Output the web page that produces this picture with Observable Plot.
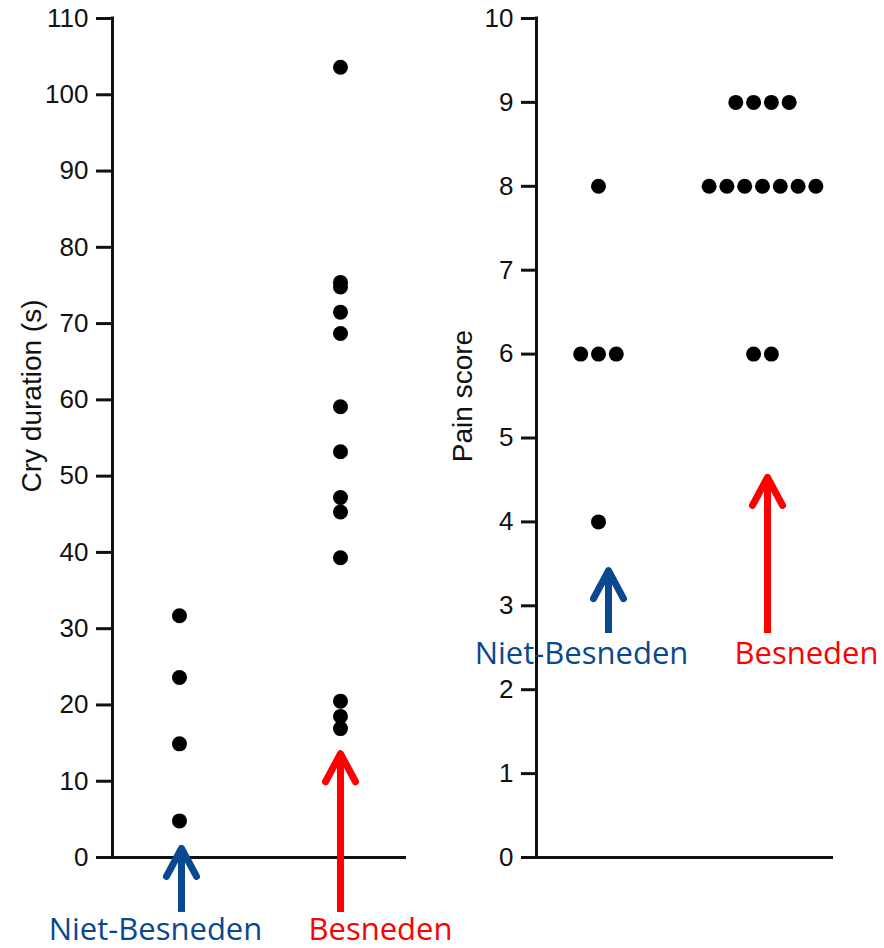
<!DOCTYPE html>
<html><head><meta charset="utf-8">
<script src="https://cdn.jsdelivr.net/npm/d3@7"></script>
<script src="https://cdn.jsdelivr.net/npm/@observablehq/plot@0.6"></script>
<style>
html,body{margin:0;padding:0;background:#fff;}
#wrap{position:relative;width:884px;height:948px;overflow:hidden;background:#fff;}
#left{position:absolute;left:0;top:0;z-index:2;}
#right{position:absolute;left:440px;top:0;z-index:1;}
#wrap svg{overflow:visible;}
</style></head><body>
<div id="wrap"><div id="left"></div><div id="right"></div></div>
<script>
// ---- data ----
const groups = ["Niet-Besneden", "Besneden"];
const groupColors = ["#0a488f", "#ff0000"];
const yLabels = ["Cry duration (s)", "Pain score"];

const cryNiet = [31.7, 23.6, 14.9, 4.8];
const cryBesn = [103.6, 75.4, 74.8, 71.5, 68.7, 59.1, 53.2, 47.2, 45.3, 39.3, 20.5, 18.5, 16.9];
const cryTicks = [0, 10, 20, 30, 40, 50, 60, 70, 80, 90, 100, 110];

const painNiet = [8, 6, 6, 6, 4];
const painBesn = [9, 9, 9, 9, 8, 8, 8, 8, 8, 8, 8, 6, 6];
const painTicks = [0, 1, 2, 3, 4, 5, 6, 7, 8, 9, 10];

// annotation arrows (in data units of each panel)
const cryArrowTip = [1.2, 13.6];
const cryArrowTail = [-7.2, -7.2];
const cryLabelY = -10.8;
const painArrowTip = [3.42, 4.53];
const painArrowTail = [2.67, 2.67];
const painLabelY = 2.31;

// ---- tables ----
const cryData = [
  ...cryNiet.map(v => ({g: 0, v})),
  ...cryBesn.map(v => ({g: 1, v}))
];
function stackDots(values, g, step) {
  const counts = d3.rollup(values, a => a.length, d => d);
  const seen = new Map();
  return values.map(v => {
    const n = counts.get(v), k = seen.get(v) || 0;
    seen.set(v, k + 1);
    return {g, v, pos: g + (k - (n - 1) / 2) * step};
  });
}
const painData = [...stackDots(painNiet, 0, 0.1085), ...stackDots(painBesn, 1, 0.1085)];

const chevron = {
  draw(context) {
    context.moveTo(-15, 28);
    context.lineTo(0, 0);
    context.lineTo(15, 28);
  }
};

function arrowMarks(gx, tip, tail, color, dx) {
  const d = [{x: gx, tip, tail}];
  return [
    Plot.ruleX(d, {x: "x", y1: "tail", y2: "tip", stroke: color, strokeWidth: 7, dx}),
    Plot.vector(d, {x: "x", y: "tip", anchor: "start", length: 30, shape: chevron,
      stroke: color, strokeWidth: 7, strokeLinecap: "round", strokeLinejoin: "round", dx})
  ];
}
function labelMark(gi, y, dx) {
  return Plot.text([{g: gi, y, t: groups[gi]}], {
    x: "g", y: "y", text: "t", fill: groupColors[gi], fontSize: 31,
    fontFamily: "'Open Sans', sans-serif", lineAnchor: "bottom", textAnchor: "middle", dx
  });
}

const baseStyle = {fontFamily: "'Liberation Sans', Arial, sans-serif", background: "transparent", color: "#111", overflow: "visible"};

// ---- left panel ----
const xL = [-0.416, 1.41];
const left = Plot.plot({
  width: 440, height: 948,
  marginLeft: 112, marginRight: 34, marginTop: 18, marginBottom: 91,
  x: {domain: xL, axis: null},
  y: {domain: [0, 110]},
  style: baseStyle,
  marks: [
    Plot.ruleY([0], {insetLeft: -9, strokeWidth: 3, stroke: "#111"}),
    Plot.ruleX([xL[0]], {y1: 0, y2: 110, strokeWidth: 3, stroke: "#111", strokeLinecap: "square"}),
    Plot.axisY({ticks: cryTicks, tickSize: 16, tickPadding: 8, fontSize: 26, strokeWidth: 3, label: null}),
    Plot.dot(cryData, {x: "g", y: "v", r: 7.5, fill: "black"}),
    Plot.text([yLabels[0]], {frameAnchor: "left", textAnchor: "middle", rotate: -90, dx: -80, dy: -42, fontSize: 28, fill: "#111"}),
    ...arrowMarks(0, cryArrowTip[0], cryArrowTail[0], groupColors[0], 2),
    ...arrowMarks(1, cryArrowTip[1], cryArrowTail[1], groupColors[1], 0),
    labelMark(0, cryLabelY, -24),
    labelMark(1, cryLabelY, 40)
  ]
});
document.getElementById("left").append(left);

// ---- right panel ----
const xR = [-0.378, 1.433];
const right = Plot.plot({
  width: 444, height: 948,
  marginLeft: 96, marginRight: 51, marginTop: 18, marginBottom: 91,
  x: {domain: xR, axis: null},
  y: {domain: [0, 10]},
  style: baseStyle,
  marks: [
    Plot.ruleY([0], {insetLeft: -9, strokeWidth: 3, stroke: "#111"}),
    Plot.ruleX([xR[0]], {y1: 0, y2: 10, strokeWidth: 3, stroke: "#111", strokeLinecap: "square"}),
    Plot.axisY({ticks: painTicks, tickSize: 15, tickPadding: 8, fontSize: 26, strokeWidth: 3, label: null}),
    Plot.dot(painData, {x: "pos", y: "v", r: 7.5, fill: "black"}),
    Plot.text([yLabels[1]], {frameAnchor: "left", textAnchor: "middle", rotate: -90, dx: -73, dy: -42, fontSize: 28, fill: "#111"}),
    ...arrowMarks(0, painArrowTip[0], painArrowTail[0], groupColors[0], 10),
    ...arrowMarks(1, painArrowTip[1], painArrowTail[1], groupColors[1], 5),
    labelMark(0, painLabelY, -17),
    labelMark(1, painLabelY, 44)
  ]
});
document.getElementById("right").append(right);
</script>
</body></html>
